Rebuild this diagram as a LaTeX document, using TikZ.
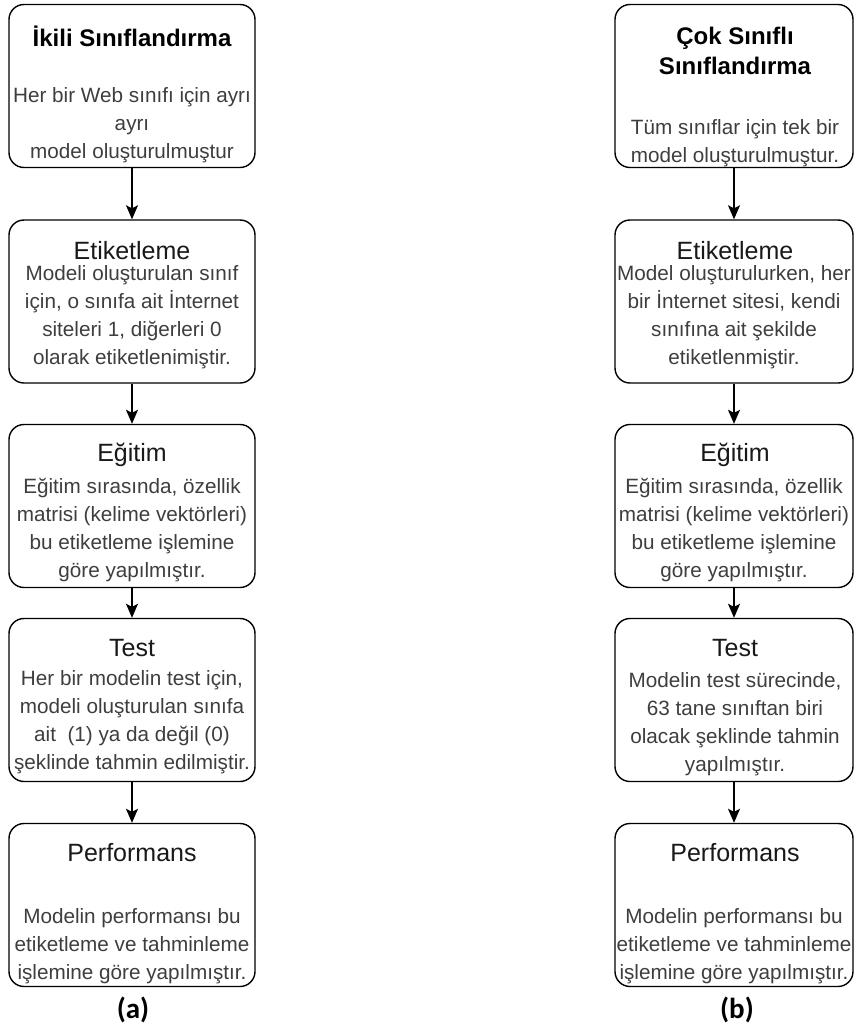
\documentclass[tikz,border=0pt]{standalone}
\usepackage{fontspec}
\setmainfont{Liberation Sans}
\newfontfamily\labelfont{Carlito}
\usetikzlibrary{arrows.meta}
\definecolor{bodygray}{RGB}{62,62,62}
\definecolor{titlegray}{RGB}{25,25,25}
\begin{document}
\begin{tikzpicture}[x=1pt,y=-1pt,
  box/.style={draw=black, line width=1.4pt, rounded corners=15pt, fill=white,
              minimum height=163pt, inner sep=0pt},
  lbox/.style={box, minimum width=246pt},
  rbox/.style={box, minimum width=238pt},
  maintitle/.style={align=center, inner sep=0pt, text=black,
              font=\fontsize{24}{30}\selectfont\bfseries},
  steptitle/.style={align=center, inner sep=0pt, text=titlegray,
              font=\fontsize{25}{30}\selectfont},
  bodytext/.style={align=center, inner sep=0pt, text=bodygray,
              font=\fontsize{20.7}{28}\selectfont},
  arr/.style={draw=black, line width=1.5pt,
              -{Stealth[length=14pt, width=12pt, inset=3pt]}},
  sublabel/.style={inner sep=0pt, font=\labelfont\fontsize{29}{32}\selectfont\bfseries}
]
\useasboundingbox (0,0) rectangle (855,1025);

% ---------- left column (a) ----------
\node[lbox] (L1) at (132,86) {};
\node[lbox] (L2) at (132,301.5) {};
\node[lbox] (L3) at (132,506) {};
\node[lbox] (L4) at (132,700) {};
\node[lbox] (L5) at (132,905) {};

\node[maintitle] (L1t) at (132,36) {İkili Sınıflandırma};
\node[bodytext] (L1b) at (132,125) {Her bir Web sınıfı için ayrı\\ayrı\\model oluşturulmuştur};

\node[steptitle] (L2t) at (132,251) {Etiketleme};
\node[bodytext] (L2b) at (132,317) {Modeli oluşturulan sınıf\\için, o sınıfa ait İnternet\\siteleri 1, diğerleri 0\\olarak etiketlenimiştir.};

\node[steptitle] (L3t) at (132,455) {Eğitim};
\node[bodytext] (L3b) at (132,530) {Eğitim sırasında, özellik\\matrisi (kelime vektörleri)\\bu etiketleme işlemine\\göre yapılmıştır.};

\node[steptitle] (L4t) at (132,648) {Test};
\node[bodytext] (L4b) at (132,722) {Her bir modelin test için,\\modeli oluşturulan sınıfa\\ait\ \ (1) ya da değil (0)\\şeklinde tahmin edilmiştir.};

\node[steptitle] (L5t) at (132,853) {Performans};
\node[bodytext] (L5b) at (132,946) {Modelin performansı bu\\etiketleme ve tahminleme\\işlemine göre yapılmıştır.};

\draw[arr] (L1) -- (L2);
\draw[arr] (L2) -- (L3);
\draw[arr] (L3) -- (L4);
\draw[arr] (L4) -- (L5);

\node[sublabel] (la) at (133,1010) {(a)};

% ---------- right column (b) ----------
\node[rbox] (R1) at (734,86) {};
\node[rbox] (R2) at (734,301.5) {};
\node[rbox] (R3) at (734,506) {};
\node[rbox] (R4) at (734,700) {};
\node[rbox] (R5) at (734,905) {};

\node[maintitle] (R1t) at (735,51) {Çok Sınıflı\\Sınıflandırma};
\node[bodytext] (R1b) at (735,143) {Tüm sınıflar için tek bir\\model oluşturulmuştur.};

\node[steptitle] (R2t) at (735,251) {Etiketleme};
\node[bodytext] (R2b) at (734,317) {Model oluşturulurken, her\\bir İnternet sitesi, kendi\\sınıfına ait şekilde\\etiketlenmiştir.};

\node[steptitle] (R3t) at (735,455) {Eğitim};
\node[bodytext] (R3b) at (734,530) {Eğitim sırasında, özellik\\matrisi (kelime vektörleri)\\bu etiketleme işlemine\\göre yapılmıştır.};

\node[steptitle] (R4t) at (735,648) {Test};
\node[bodytext] (R4b) at (735,724) {Modelin test sürecinde,\\63 tane sınıftan biri\\olacak şeklinde tahmin\\yapılmıştır.};

\node[steptitle] (R5t) at (735,853) {Performans};
\node[bodytext] (R5b) at (734,946) {Modelin performansı bu\\etiketleme ve tahminleme\\işlemine göre yapılmıştır.};

\draw[arr] (R1) -- (R2);
\draw[arr] (R2) -- (R3);
\draw[arr] (R3) -- (R4);
\draw[arr] (R4) -- (R5);

\node[sublabel] (lb) at (737,1010) {(b)};
\end{tikzpicture}
\end{document}
